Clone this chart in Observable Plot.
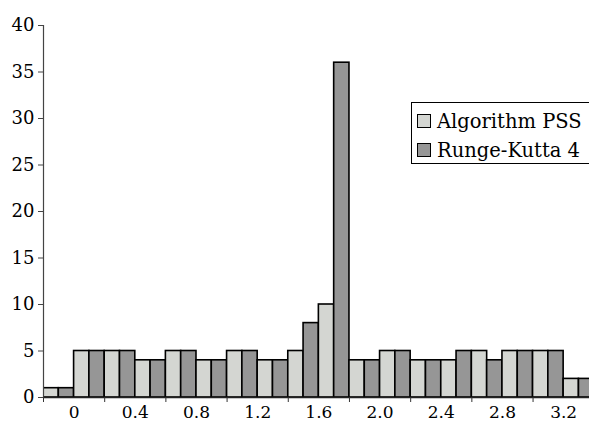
<!DOCTYPE html>
<html>
<head>
<meta charset="utf-8">
<script src="https://cdn.jsdelivr.net/npm/d3@7"></script>
<script src="https://cdn.jsdelivr.net/npm/@observablehq/plot@0.6"></script>
<style>
  html, body { margin: 0; padding: 0; background: #fff; overflow: hidden; }
  #wrap { position: relative; width: 589px; height: 421px; overflow: hidden; }
  #legend { position: absolute; left: 411px; top: 102px; width: 200px; height: 62px;
    border: 1px solid #000; box-sizing: border-box; background: #fff;
    font-family: "DejaVu Serif", serif; font-size: 19.5px; color: #000; }
  .row { position: absolute; left: 5px; display: flex; align-items: center; height: 22px; }
  .sw { width: 14px; height: 14px; border: 1.6px solid #000; margin-right: 6px; box-sizing: border-box; }
</style>
</head>
<body>
<div id="wrap"></div>
<script>
const binStart = [-0.2, 0, 0.2, 0.4, 0.6, 0.8, 1.0, 1.2, 1.4, 1.6, 1.8, 2.0, 2.2, 2.4, 2.6, 2.8, 3.0, 3.2];
const binWidth = 0.2;
const seriesNames = ["Algorithm PSS", "Runge-Kutta 4"];
const pss = [1, 5, 5, 4, 5, 4, 5, 4, 5, 10, 4, 5, 4, 4, 5, 5, 5, 2];
const rk4 = [1, 5, 5, 4, 5, 4, 5, 4, 8, 36, 4, 5, 4, 5, 4, 5, 5, 2];
const colors = ["#d4d6d2", "#969696"];
const yTicks = [0, 5, 10, 15, 20, 25, 30, 35, 40];
const xTickMarks = [-0.2, 0.2, 0.6, 1.0, 1.4, 1.8, 2.2, 2.6, 3.0];
const xLabelPos = [0, 0.4, 0.8, 1.2, 1.6, 2.0, 2.4, 2.8, 3.2];
const xLabels = ["0", "0.4", "0.8", "1.2", "1.6", "2.0", "2.4", "2.8", "3.2"];

const rows = [];
binStart.forEach((s, i) => {
  rows.push({series: seriesNames[0], x1: s, x2: s + binWidth / 2, v: pss[i]});
  rows.push({series: seriesNames[1], x1: s + binWidth / 2, x2: s + binWidth, v: rk4[i]});
});

const font = "DejaVu Serif, serif";
const chart = Plot.plot({
  width: 589,
  height: 421,
  marginLeft: 43,
  marginRight: 0,
  marginTop: 25,
  marginBottom: 24,
  style: {fontFamily: font, fontSize: "18px", color: "#000", background: "#fff"},
  x: {domain: [-0.2, 3.369]},
  y: {domain: [0, 40]},
  color: {domain: seriesNames, range: colors},
  marks: [
    Plot.rectY(rows, {x1: "x1", x2: "x2", y: "v", fill: "series", stroke: "#000", strokeWidth: 1.6, clip: true}),
    Plot.ruleX([-0.2], {y1: 0, y2: 40, stroke: "#444", strokeWidth: 1.2}),
    Plot.ruleY([0], {stroke: "#222", strokeWidth: 1.4}),
    Plot.axisY({ticks: yTicks, tickSize: 5, tickPadding: 4, tickFormat: d => String(d), label: null, stroke: "#444", fill: "#000", fontSize: 18, fontFamily: font}),
    Plot.axisX({ticks: xTickMarks, tickSize: 5, tickFormat: () => "", label: null, stroke: "#333"}),
    Plot.axisX({ticks: xLabelPos, tickSize: 0, tickPadding: 8, tickFormat: (d, i) => xLabels[i], label: null, fill: "#000", fontSize: 17, fontFamily: font})
  ]
});

const wrap = document.getElementById("wrap");
wrap.appendChild(chart);

const legend = document.createElement("div");
legend.id = "legend";
seriesNames.forEach((name, i) => {
  const row = document.createElement("div");
  row.className = "row";
  row.style.top = (7 + i * 29) + "px";
  const sw = document.createElement("div");
  sw.className = "sw";
  sw.style.background = colors[i];
  const t = document.createElement("span");
  t.textContent = name;
  row.appendChild(sw);
  row.appendChild(t);
  legend.appendChild(row);
});
wrap.appendChild(legend);
</script>
</body>
</html>
